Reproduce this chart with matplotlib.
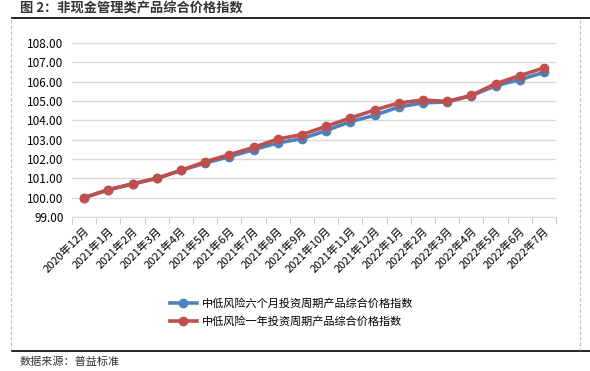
import matplotlib
matplotlib.use("Agg")
import matplotlib.pyplot as plt
from matplotlib.lines import Line2D

plt.rcParams['font.family'] = ['Noto Sans CJK SC', 'DejaVu Sans']

categories = ["2020年12月", "2021年1月", "2021年2月", "2021年3月", "2021年4月", "2021年5月",
              "2021年6月", "2021年7月", "2021年8月", "2021年9月", "2021年10月", "2021年11月",
              "2021年12月", "2022年1月", "2022年2月", "2022年3月", "2022年4月", "2022年5月",
              "2022年6月", "2022年7月"]
six_month = [100.00, 100.41, 100.71, 101.00, 101.41, 101.79, 102.12, 102.48, 102.83, 103.05,
             103.47, 103.93, 104.26, 104.69, 104.90, 104.95, 105.27, 105.79, 106.10, 106.48]
one_year = [100.00, 100.41, 100.71, 101.00, 101.41, 101.86, 102.22, 102.60, 103.03, 103.26,
            103.69, 104.12, 104.53, 104.90, 105.05, 104.98, 105.29, 105.89, 106.31, 106.71]
series_names = ["中低风险六个月投资周期产品综合价格指数", "中低风险一年投资周期产品综合价格指数"]
title = "图 2：非现金管理类产品综合价格指数"
source = "数据来源：普益标准"

blue = "#4F81BD"
red = "#C0504D"

fig = plt.figure(figsize=(5.9, 3.71), dpi=100)
ax = fig.add_axes([72/590, 1-217/371, (556-72)/590, (217-43)/371])

x = list(range(len(categories)))
ax.plot(x, six_month, color=blue, lw=2.6, marker='o', ms=6, label=series_names[0], zorder=3)
ax.plot(x, one_year, color=red, lw=2.6, marker='o', ms=6, label=series_names[1], zorder=4)

ax.set_xlim(-0.5, len(categories) - 0.5)
ax.set_ylim(99, 108)
ax.set_yticks(range(99, 109))
ax.set_yticklabels([f"{v:.2f}" for v in range(99, 109)], fontsize=8.5)
ax.yaxis.grid(True, color="#d9d9d9", lw=1)
ax.set_axisbelow(True)
ax.tick_params(axis='y', length=0, pad=6)

ax.set_xticks(x)
ax.set_xticklabels(categories, rotation=45, ha='right', rotation_mode='anchor', fontsize=8)
ax.set_xticks([i - 0.5 for i in range(len(categories) + 1)], minor=True)
ax.tick_params(axis='x', which='major', length=0, pad=6)
ax.tick_params(axis='x', which='minor', length=5, color="#bfbfbf")
for s in ['top', 'right', 'left']:
    ax.spines[s].set_visible(False)
ax.spines['bottom'].set_color("#d9d9d9")

handles = [Line2D([0], [0], color=blue, lw=2.6, marker='o', ms=6),
           Line2D([0], [0], color=red, lw=2.6, marker='o', ms=6)]
fig.legend(handles, series_names, loc='upper left', bbox_to_anchor=(160/590, 1-288/371),
           frameon=False, fontsize=8, handlelength=2.4, handletextpad=0.5, labelspacing=0.7)

# Title and decorations
fig.text(20/590, 1-8/371, title, fontsize=9.5, fontweight='bold', color="#333333", va='center')
fig.add_artist(Line2D([12/590, 1.0], [1-18/371, 1-18/371], color='black', lw=1.2))
fig.add_artist(Line2D([12/590, 1.0], [1-351/371, 1-351/371], color='black', lw=1.2))
fig.add_artist(Line2D([11/590, 11/590], [1-20/371, 1-350/371], color='#bfbfbf', lw=0.8, ls=(0, (3, 2))))
fig.add_artist(Line2D([580/590, 580/590], [1-20/371, 1-350/371], color='#bfbfbf', lw=0.8, ls=(0, (3, 2))))
fig.text(20/590, 1-362/371, source, fontsize=8, color="#333333", va='center')

fig.savefig("out.png", dpi=100)
